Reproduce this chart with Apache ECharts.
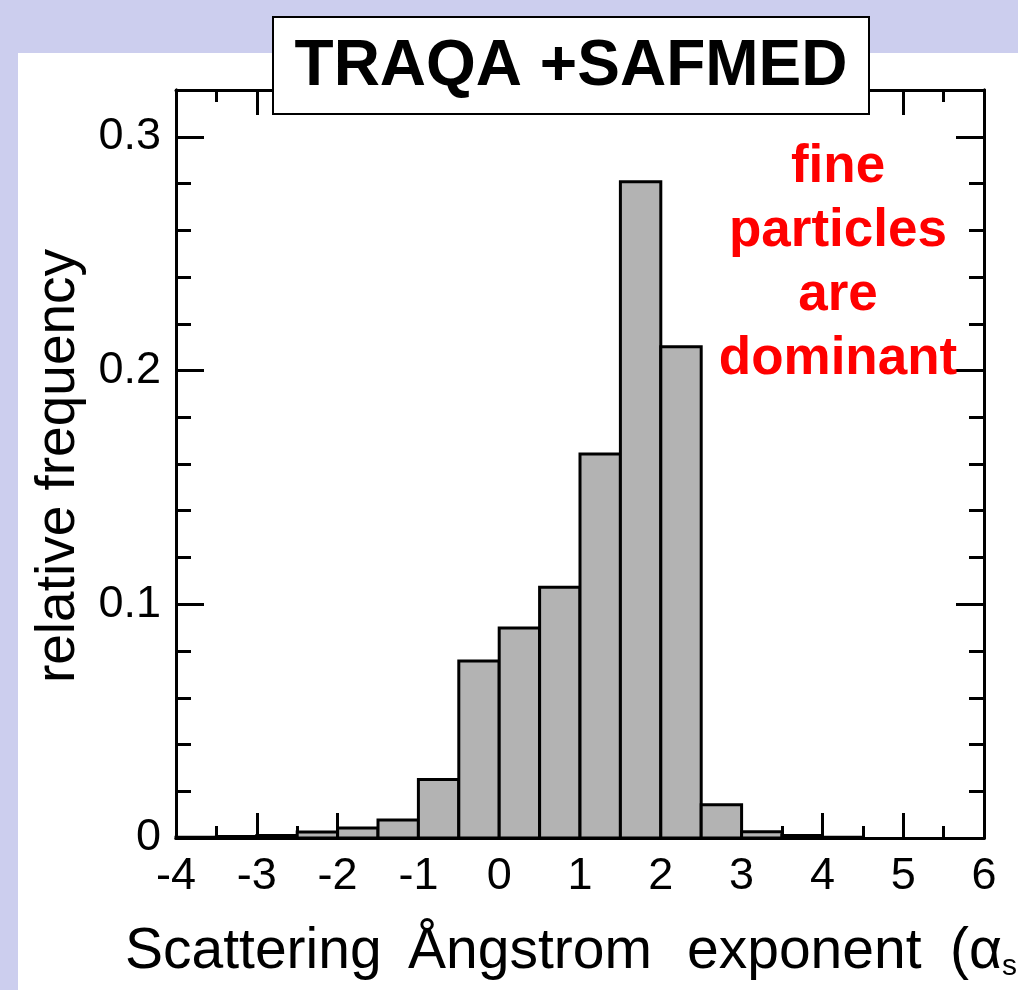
<!DOCTYPE html>
<html><head><meta charset="utf-8">
<script src="https://cdn.jsdelivr.net/npm/echarts@6/dist/echarts.min.js"></script>
<style>html,body{margin:0;padding:0;background:#CCCEEE}#c{width:1018px;height:990px}</style>
</head><body><div id="c"></div>
<script>
// ---- data ----
const binStart = [-4, -3.5, -3, -2.5, -2, -1.5, -1, -0.5, 0, 0.5, 1, 1.5, 2, 2.5, 3, 3.5, 4];
const binEnd   = [-3.5, -3, -2.5, -2, -1.5, -1, -0.5, 0, 0.5, 1, 1.5, 2, 2.5, 3, 3.5, 4, 4.5];
const relFreq  = [0.0003, 0.0006, 0.0011, 0.0026, 0.0043, 0.0077, 0.025, 0.0757, 0.0898, 0.1073, 0.1643, 0.2807, 0.2102, 0.0142, 0.0027, 0.0011, 0.0003];
const xMin = -4, xMax = 6, xStep = 1;
const yMin = 0, yMax = 0.32, yMajor = 0.1, yMinor = 0.02;
const titleText = 'TRAQA +SAFMED';
const noteLines = ['fine', 'particles', 'are', 'dominant'];
const xNameWords = ['Scattering ', 'Ångstrom ', 'exponent ', '(α'];
const xNameSub = 's';
const yName = 'relative frequency';

const FONT = '"Liberation Sans", Arial, Helvetica, sans-serif';
const histData = binStart.map((s, i) => [s, binEnd[i], relFreq[i]]);

const chart = echarts.init(document.getElementById('c'), null, {renderer: 'canvas'});
const lineSt = {color: '#000', width: 3};
const axLine = {show: true, onZero: false, lineStyle: lineSt};

function xAx(pos, labels) {
  return {
    type: 'value', position: pos, min: xMin, max: xMax, interval: xStep,
    axisLine: axLine,
    axisTick: {show: true, inside: true, length: 25, lineStyle: lineSt},
    minorTick: {show: true, splitNumber: 2, length: 12, lineStyle: lineSt},
    axisLabel: {show: labels, color: '#000', fontSize: 45, fontFamily: FONT, margin: 16},
    splitLine: {show: false}, minorSplitLine: {show: false}
  };
}
function yAx(pos, major, labels) {
  return {
    type: 'value', position: pos, min: yMin, max: yMax, interval: major ? yMajor : yMinor,
    axisLine: axLine,
    axisTick: {show: true, inside: true, length: major ? 28 : 15, lineStyle: lineSt},
    axisLabel: {show: labels, showMaxLabel: false, color: '#000', fontSize: 45, fontFamily: FONT, margin: 15},
    splitLine: {show: false}
  };
}

// x-axis title tokens, each given the width it takes in the reference
const tokenW = [283, 279, 263, 52];
const rich = {s: {fontSize: 30, fontFamily: FONT, fill: '#000', lineHeight: 10, verticalAlign: 'bottom'}};
let xTitle = '';
xNameWords.forEach((w, i) => {
  rich['w' + i] = {fontSize: 57, fontFamily: FONT, fill: '#000', lineHeight: 60, width: tokenW[i], align: 'left'};
  xTitle += '{w' + i + '|' + w + '}';
});
xTitle += '{s|' + xNameSub + '}';

chart.setOption({
  backgroundColor: '#CCCEEE',
  animation: false,
  grid: {left: 176, right: 34, top: 90, bottom: 152},
  xAxis: [xAx('bottom', true), xAx('top', false)],
  yAxis: [yAx('left', false, false), yAx('left', true, true), yAx('right', false, false), yAx('right', true, false)],
  series: [{
    type: 'custom',
    xAxisIndex: 0, yAxisIndex: 1,
    encode: {x: [0, 1], y: 2},
    data: histData,
    z: 5,
    renderItem: function (params, api) {
      const p0 = api.coord([api.value(0), 0]);
      const p1 = api.coord([api.value(1), api.value(2)]);
      return {
        type: 'rect',
        shape: {x: p0[0], y: p1[1], width: p1[0] - p0[0], height: p0[1] - p1[1]},
        style: {fill: '#B3B3B3', stroke: '#000', lineWidth: 3}
      };
    }
  }],
  graphic: [
    {type: 'rect', z: -10, shape: {x: 18, y: 53, width: 1000, height: 937}, style: {fill: '#FFFFFF'}},
    {type: 'rect', z: 100, shape: {x: 273, y: 17, width: 596, height: 97}, style: {fill: '#FFFFFF', stroke: '#000', lineWidth: 2}},
    {type: 'text', z: 101, x: 571, y: 67, style: {text: titleText, fill: '#000', fontSize: 64, fontWeight: 'bold', fontFamily: FONT, align: 'center', verticalAlign: 'middle'}},
    {type: 'text', z: 101, x: 838, y: 263, style: {text: noteLines.join('\n'), fill: '#FF0000', fontSize: 53, fontWeight: 'bold', fontFamily: FONT, lineHeight: 64, align: 'center', verticalAlign: 'middle'}},
    {type: 'text', z: 101, x: 59, y: 466, rotation: Math.PI / 2, style: {text: yName, fill: '#000', fontSize: 55, fontFamily: FONT, align: 'center', verticalAlign: 'middle'}},
    {type: 'text', z: 101, x: 125, y: 952, style: {text: xTitle, align: 'left', verticalAlign: 'middle', rich: rich}}
  ]
});
</script></body></html>
